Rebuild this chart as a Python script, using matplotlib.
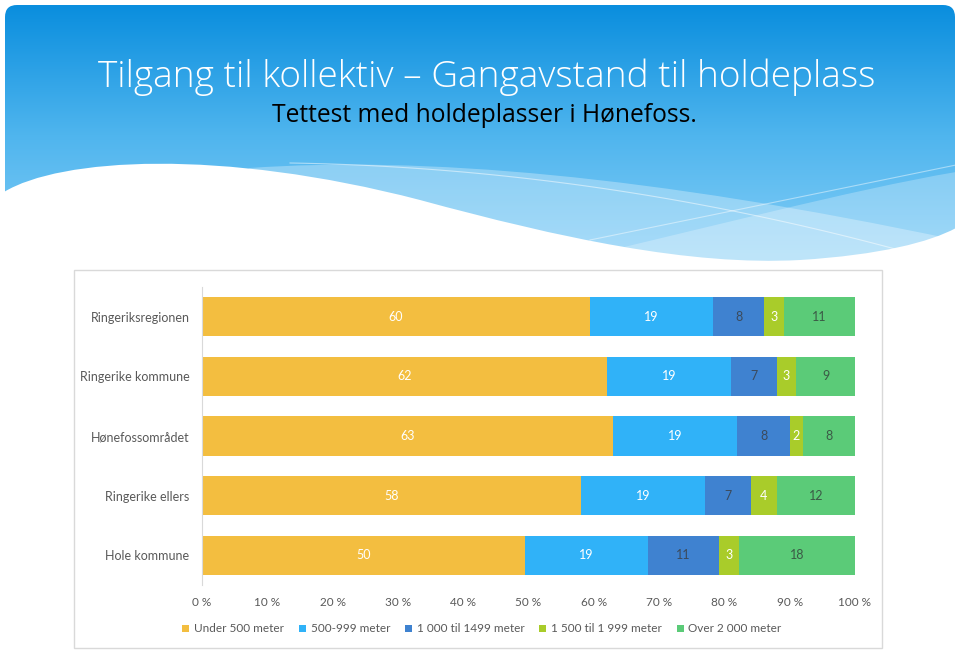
import numpy as np
import matplotlib
matplotlib.use("Agg")
import matplotlib.pyplot as plt
from matplotlib.patches import FancyBboxPatch, PathPatch, Rectangle, Patch
from matplotlib.path import Path
from matplotlib.colors import LinearSegmentedColormap

plt.rcParams["font.family"] = ["Lato", "DejaVu Sans"]

# data
categories = ["Ringeriksregionen", "Ringerike kommune", "Hønefossområdet",
              "Ringerike ellers", "Hole kommune"]
series_names = ["Under 500 meter", "500-999 meter", "1 000 til 1499 meter",
                "1 500 til 1 999 meter", "Over 2 000 meter"]
under_500 = [60, 62, 63, 58, 50]
m500_999 = [19, 19, 19, 19, 19]
m1000_1499 = [8, 7, 8, 7, 11]
m1500_1999 = [3, 3, 2, 4, 3]
over_2000 = [11, 9, 8, 12, 18]
x_ticks = [0, 10, 20, 30, 40, 50, 60, 70, 80, 90, 100]

title = "Tilgang til kollektiv – Gangavstand til holdeplass"
subtitle = "Tettest med holdeplasser i Hønefoss."

colors = ["#F3BE40", "#30B2F8", "#3F82D0", "#A9CC2A", "#5BCB78"]
label_colors = ["white", "white", "#3b4a5c", "white", "#3b5a46"]
GREY = "#595959"

W, H = 960, 651
fig = plt.figure(figsize=(W / 100, H / 100), dpi=100)

# slide background
bg = fig.add_axes([0, 0, 1, 1])
bg.set_xlim(0, W)
bg.set_ylim(H, 0)
bg.axis("off")

sky = LinearSegmentedColormap.from_list("sky", ["#0a8ede", "#4fb5ee", "#86cff7"])
grad = np.linspace(0, 1, 256).reshape(-1, 1)
im = bg.imshow(grad, extent=[5, 955, 265, 5], cmap=sky, aspect="auto", zorder=0)
clip = FancyBboxPatch((5, 5), 950, 400, boxstyle="round,pad=0,rounding_size=12",
                      transform=bg.transData, facecolor="none", edgecolor="none")
bg.add_patch(clip)
im.set_clip_path(clip)


def wave(pts):
    codes = [Path.MOVETO] + [Path.CURVE4] * (len(pts) - 1)
    verts = list(pts) + [(956, 300), (4, 300), (4, 300)]
    codes += [Path.LINETO, Path.LINETO, Path.CLOSEPOLY]
    return Path(verts, codes)


# light bands
band1 = wave([(250, 168), (420, 156), (650, 175), (956, 240)])
bg.add_patch(PathPatch(band1, facecolor="white", alpha=0.3, edgecolor="none", zorder=1))
band2 = wave([(560, 262), (700, 230), (850, 190), (956, 172)])
bg.add_patch(PathPatch(band2, facecolor="white", alpha=0.25, edgecolor="none", zorder=1))
# thin crossing lines
t = np.linspace(0, 1, 100)
bg.plot(290 + 620 * t, 163 + 10 * t + 80 * t ** 2, color="white", alpha=0.5, lw=0.8, zorder=1)
bg.plot(590 + 366 * t, 240 - 75 * t, color="white", alpha=0.45, lw=0.8, zorder=1)
# main white wave
white = Path([(4, 192), (60, 158), (220, 148), (420, 200),
              (560, 238), (690, 266), (800, 260),
              (880, 255), (930, 242), (956, 228),
              (956, 300), (4, 300), (4, 300)],
             [Path.MOVETO] + [Path.CURVE4] * 9 + [Path.LINETO, Path.LINETO, Path.CLOSEPOLY])
bg.add_patch(PathPatch(white, facecolor="white", edgecolor="none", zorder=2))

# chart panel
bg.add_patch(Rectangle((74, 270), 808, 378, facecolor="white", edgecolor="#d9d9d9",
                       lw=1, zorder=3))

# titles, fitted to the widths in the slide
renderer = fig.canvas.get_renderer()


def fit_text(x, y, s, width_px, size, **kw):
    txt = fig.text(x, y, s, ha="center", va="center", fontsize=size, **kw)
    w = txt.get_window_extent(renderer).width
    txt.set_fontsize(size * width_px / w)
    return txt


fit_text(487 / W, 1 - 77 / H, title, 780, 28, color="white",
         family=["Open Sans", "DejaVu Sans"], fontweight="light")
fit_text(484 / W, 1 - 116 / H, subtitle, 426, 16, color="black",
         family=["Open Sans", "DejaVu Sans"])

# chart
ax = fig.add_axes([202 / W, 1 - 585 / H, 653 / W, 298 / H])
ax.set_zorder(5)
values = np.array([under_500, m500_999, m1000_1499, m1500_1999, over_2000], dtype=float)
totals = values.sum(axis=0)
shares = values / totals * 100
ypos = np.arange(len(categories))
left = np.zeros(len(categories))
for i, name in enumerate(series_names):
    bars = ax.barh(ypos, shares[i], left=left, height=0.66, color=colors[i],
                   label=name, zorder=2)
    ax.bar_label(bars, labels=[str(int(v)) for v in values[i]], label_type="center",
                 color=label_colors[i], fontsize=9)
    left += shares[i]

ax.set_xlim(0, 100)
ax.set_ylim(len(categories) - 0.5, -0.5)
ax.set_yticks(ypos)
ax.set_yticklabels(categories, color=GREY, fontsize=9)
ax.set_xticks(x_ticks)
ax.set_xticklabels([f"{v} %" for v in x_ticks], color=GREY, fontsize=8.5)
ax.tick_params(axis="y", length=0, pad=9)
ax.tick_params(axis="x", length=0, pad=9)
for side in ["top", "right", "bottom"]:
    ax.spines[side].set_visible(False)
ax.spines["left"].set_color("#d9d9d9")
ax.set_facecolor("white")

handles = [Patch(facecolor=c, edgecolor="none") for c in colors]
fig.legend(handles, series_names, loc="center", bbox_to_anchor=(482 / W, 1 - 629 / H),
           ncol=5, frameon=False, fontsize=8.5, handlelength=0.6, handleheight=0.6,
           handletextpad=0.4, columnspacing=1.25, labelcolor=GREY)

fig.savefig("out.png", dpi=100)
